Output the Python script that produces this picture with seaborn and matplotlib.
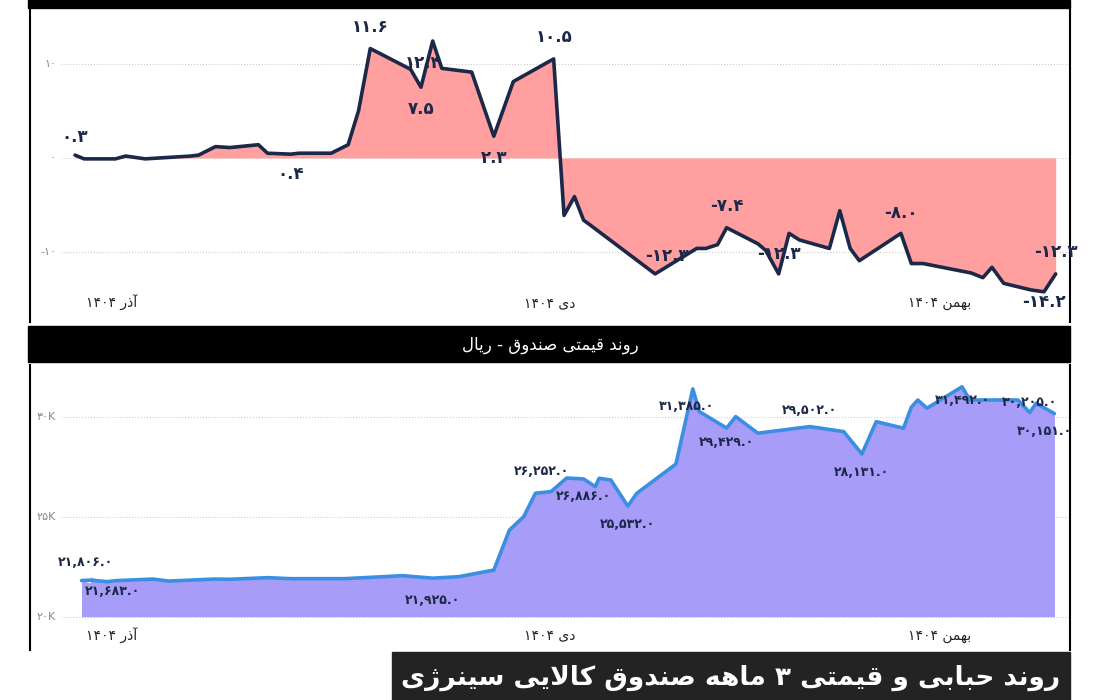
import matplotlib
matplotlib.use('Agg')
import matplotlib.pyplot as plt
import matplotlib.transforms as mtrans
from matplotlib.patches import Rectangle
import seaborn as sns
import pandas as pd

# bubble (%) series, x in trading-day units
bubble_day = [0, 0.7, 3.1, 3.9, 5.4, 8.9, 9.5, 10.8, 11.9, 14.1, 14.8, 16.6, 17.2, 19.7, 21.0, 21.8,
              22.7, 25.8, 26.6, 27.5, 28.2, 30.5, 32.2, 33.7, 36.8, 37.6, 38.4, 39.1, 39.5, 44.6,
              47.8, 48.5, 49.4, 50.1, 52.5, 53.1, 54.1, 54.9, 55.7, 58.0, 58.8, 59.6, 60.3, 63.5,
              64.3, 65.2, 68.9, 69.8, 70.5, 71.4, 73.5, 74.5, 75.4]
bubble_val = [0.3, -0.1, -0.1, 0.2, -0.1, 0.2, 0.3, 1.2, 1.1, 1.4, 0.5, 0.4, 0.5, 0.5, 1.4, 5.0,
              11.6, 9.4, 7.5, 12.4, 9.5, 9.1, 2.3, 8.1, 10.5, -6.1, -4.1, -6.6, -7.0, -12.3,
              -9.6, -9.6, -9.2, -7.4, -9.1, -9.8, -12.3, -8.0, -8.7, -9.6, -5.6, -9.6, -10.9, -8.0,
              -11.2, -11.2, -12.2, -12.7, -11.6, -13.3, -14.0, -14.2, -12.3]
# (point index, dx px, dy px)
bubble_labels = [(0, 0, 18), (16, 0, 22), (11, 0, -20), (18, 0, -22), (19, -10, -22),
                 (22, 0, -22), (24, 0, 22), (29, 12, 18), (33, 0, 22), (36, 0, 20),
                 (43, 0, 20), (52, 0, 22), (51, 0, -10)]

price_day = [0.5, 1.2, 2.5, 3.1, 6.0, 7.2, 10.7, 11.9, 14.8, 16.6, 20.7, 23.7, 25.2, 27.5,
             29.5, 32.2, 33.4, 34.5, 35.4, 36.6, 37.8, 39.1, 40.0, 40.3, 41.2, 42.5, 43.2, 46.2,
             47.5, 48.0, 50.1, 50.8, 52.5, 56.5, 59.1, 60.5, 61.6, 63.7, 64.3, 64.8, 65.5, 68.2,
             68.8, 72.5, 73.4, 73.9, 75.3]
price_val = [21806, 21683, 21970, 21750, 21800, 21880, 21780, 21880, 21870, 21950, 21900, 21900,
             22000, 22050, 21925, 22000, 22330, 24330, 25000, 26170, 26252, 26930, 26886, 26500,
             26920, 26830, 25532, 26170, 27630, 31385, 30250, 29429, 30000, 29170, 29502, 29250,
             28131, 29750, 29420, 30470, 30830, 30420, 31492, 30830, 30830, 30205, 30670, 30151]
price_day = price_day[:1] + [1.2] + price_day[1:]
price_labels = [(0, 4, 18), (1, 22, -8), (14, 0, -22), (20, -10, 20), (22, 0, -18), (26, 0, -18),
                (29, -6, -18), (31, 0, -14), (34, 0, 16), (36, 0, -18), (42, 0, -14),
                (45, 0, 10), (47, -10, -18)]

month_day = [2.8, 36.5, 66.5]
month_names = ['آذر ۱۴۰۴', 'دی ۱۴۰۴', 'بهمن ۱۴۰۴']
bubble_ticks = [10, 0, -10]
price_ticks = [30000, 25000, 20000]
price_title = 'روند قیمتی صندوق - ریال'
main_title = 'روند حبابی و قیمتی ۳ ماهه صندوق کالایی سینرژی'

# minimal Persian shaping (matplotlib has no RTL shaping)
FORMS = {
    'ا': (0xFE8D, 0xFE8E), 'آ': (0xFE81, 0xFE82), 'د': (0xFEA9, 0xFEAA), 'ذ': (0xFEAB, 0xFEAC),
    'ر': (0xFEAD, 0xFEAE), 'ز': (0xFEAF, 0xFEB0), 'ژ': (0xFB8A, 0xFB8B), 'و': (0xFEED, 0xFEEE),
    'ب': (0xFE8F, 0xFE90, 0xFE91, 0xFE92), 'ت': (0xFE95, 0xFE96, 0xFE97, 0xFE98),
    'ح': (0xFEA1, 0xFEA2, 0xFEA3, 0xFEA4), 'س': (0xFEB1, 0xFEB2, 0xFEB3, 0xFEB4),
    'ص': (0xFEB9, 0xFEBA, 0xFEBB, 0xFEBC), 'ق': (0xFED5, 0xFED6, 0xFED7, 0xFED8),
    'ک': (0xFB8E, 0xFB8F, 0xFB90, 0xFB91), 'ل': (0xFEDD, 0xFEDE, 0xFEDF, 0xFEE0),
    'م': (0xFEE1, 0xFEE2, 0xFEE3, 0xFEE4), 'ن': (0xFEE5, 0xFEE6, 0xFEE7, 0xFEE8),
    'ه': (0xFEE9, 0xFEEA, 0xFEEB, 0xFEEC), 'ی': (0xFBFC, 0xFBFD, 0xFBFE, 0xFBFF),
}


def shape_word(w):
    out = []
    i = 0
    while i < len(w):
        c = w[i]
        if c not in FORMS:
            out.append(c)
            i += 1
            continue
        prev = w[i - 1] if i > 0 else ''
        join_prev = prev in FORMS and len(FORMS[prev]) == 4
        if c == 'ل' and i + 1 < len(w) and w[i + 1] == 'ا':
            out.append(chr(0xFEFC if join_prev else 0xFEFB))
            i += 2
            continue
        nxt = w[i + 1] if i + 1 < len(w) else ''
        f = FORMS[c]
        join_next = len(f) == 4 and nxt in FORMS
        if join_prev and join_next:
            out.append(chr(f[3]))
        elif join_prev:
            out.append(chr(f[1]))
        elif join_next:
            out.append(chr(f[2]))
        else:
            out.append(chr(f[0]))
        i += 1
    return ''.join(out)[::-1]


def fa(s):
    words = []
    for w in s.split(' '):
        if any(ch in FORMS for ch in w):
            words.append(shape_word(w))
        else:
            words.append(w)
    return ' '.join(words[::-1])


DIG = str.maketrans('0123456789', '۰۱۲۳۴۵۶۷۸۹')


def fnum(v, price=False):
    s = f'{v:,.1f}' if price else f'{v:.1f}'
    return s.translate(DIG)


sns.set_style('white')
plt.rcParams['font.family'] = ['DejaVu Sans']

W, H = 1100, 700
fig = plt.figure(figsize=(11, 7), dpi=100)
fig.patch.set_facecolor('white')


def px_axes(x0, y0, x1, y1):
    return fig.add_axes([x0 / W, 1 - y1 / H, (x1 - x0) / W, (y1 - y0) / H])


navy = '#1b2848'
xlim = (-3.46, 76.5)

# top: bubble
ax1 = px_axes(30, 8, 1070, 322)
df1 = pd.DataFrame({'day': bubble_day, 'val': bubble_val})
ax1.fill_between(df1['day'], df1['val'], 0, color='#ff9f9f', lw=0)
sns.lineplot(data=df1, x='day', y='val', ax=ax1, color=navy, lw=2.6, sort=False)
ax1.set_xlim(*xlim)
ax1.set_ylim(-17.4, 15.9)
for i, dx, dy in bubble_labels:
    ax1.annotate(fnum(bubble_val[i]), (bubble_day[i], bubble_val[i]), xytext=(dx, dy),
                 textcoords='offset pixels', ha='center', va='center',
                 fontsize=12, fontweight='bold', color=navy)

# bottom: price
ax2 = px_axes(30, 365, 1070, 650)
df2 = pd.DataFrame({'day': price_day, 'val': price_val})
ax2.fill_between(df2['day'], df2['val'], 20000, color='#a79cf7', lw=0)
sns.lineplot(data=df2, x='day', y='val', ax=ax2, color='#3b8fe3', lw=2.6, sort=False)
ax2.set_xlim(*xlim)
ax2.set_ylim(18335, 32580)
for i, dx, dy in price_labels:
    ax2.annotate(fnum(price_val[i], True), (price_day[i], price_val[i]), xytext=(dx, dy),
                 textcoords='offset pixels', ha='center', va='center',
                 fontsize=9, fontweight='bold', color=navy)

for ax, ticks, labfmt, month_y in [(ax1, bubble_ticks, lambda t: f'{t}'.translate(DIG), 0.06),
                                    (ax2, price_ticks, lambda t: f'{t // 1000}K'.translate(DIG), 0.05)]:
    ax.set_xticks([])
    ax.set_yticks([])
    ax.set_xlabel('')
    ax.set_ylabel('')
    ax.set_facecolor('none')
    tr = mtrans.blended_transform_factory(ax.transAxes, ax.transData)
    for t in ticks:
        ax.axhline(t, xmin=0.03, color='#cccccc', lw=0.8, ls=':', zorder=0)
        ax.text(0.025, t, labfmt(t), transform=tr, ha='right', va='center',
                fontsize=8, color='#888888')
    tr2 = mtrans.blended_transform_factory(ax.transData, ax.transAxes)
    for d, name in zip(month_day, month_names):
        ax.text(d, month_y, fa(name), transform=tr2, ha='center', va='center',
                fontsize=10, color='#222222')
    for s in ['top', 'bottom']:
        ax.spines[s].set_visible(False)
    for s in ['left', 'right']:
        ax.spines[s].set_color('black')
        ax.spines[s].set_linewidth(1.5)

# black bars
fig.patches.append(Rectangle((28 / W, 1 - 8 / H), 1042 / W, 8 / H, transform=fig.transFigure,
                             color='black', zorder=0))
fig.patches.append(Rectangle((28 / W, 1 - 362 / H), 1042 / W, 36 / H, transform=fig.transFigure,
                             color='black', zorder=0))
fig.text(550 / W, 1 - 345 / H, fa(price_title), color='white', fontsize=12,
         ha='center', va='center')
fig.patches.append(Rectangle((392 / W, 0), 678 / W, 48 / H, transform=fig.transFigure,
                             color='#232323', zorder=0))
fig.text(731 / W, 1 - 678 / H, fa(main_title), color='white', fontsize=19, fontweight='bold',
         ha='center', va='center')

fig.savefig('out.png', dpi=100)
